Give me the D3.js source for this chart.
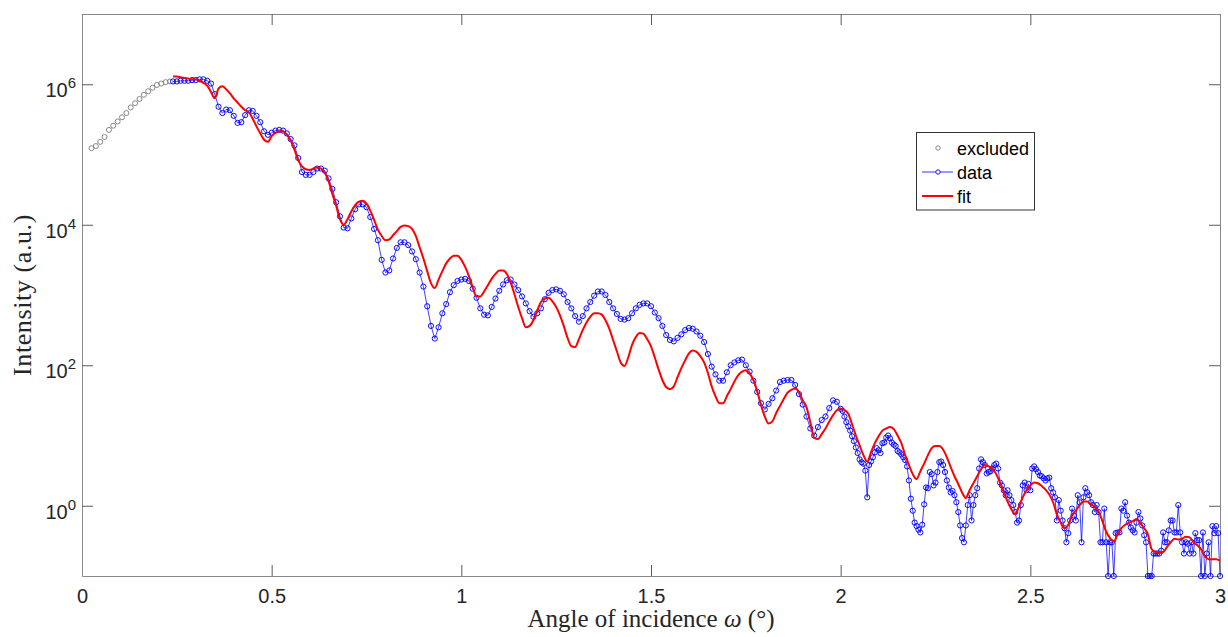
<!DOCTYPE html>
<html>
<head>
<meta charset="utf-8">
<script src="https://cdn.jsdelivr.net/npm/d3@7"></script>
<style>
  html, body { margin: 0; padding: 0; background: #fff; }
  svg { display: block; }
</style>
</head>
<body>
<svg id="chart" width="1228" height="637"></svg>
<script>
// Reflectivity scan: measured intensity vs. angle of incidence with the model fit.
// Intensities are listed as log10 values on a regular angular grid.

// Low-angle points left out of the fit
const excludedStart = 0.025, excludedStep = 0.0115;
const excludedLogI = [5.09, 5.12, 5.18, 5.25, 5.35, 5.41, 5.47, 5.53, 5.59, 5.67,
  5.73, 5.79, 5.85, 5.90, 5.95, 5.99, 6.01, 6.03, 6.04];

// Measured data, 0.24° – 2.00° (0.01° steps)
const dataStart = 0.24, dataStep = 0.01;
const dataLogI = [
  6.04, 6.04, 6.05, 6.05, 6.05, 6.06, 6.06, 6.07, 6.07, 6.05,
  6.01, 5.86, 5.68, 5.59, 5.64, 5.63, 5.55, 5.45, 5.46, 5.56,
  5.63, 5.62, 5.55, 5.46, 5.33, 5.28, 5.31, 5.34, 5.35, 5.34,
  5.30, 5.22, 5.13, 4.95, 4.75, 4.71, 4.71, 4.75, 4.80, 4.80,
  4.77, 4.66, 4.51, 4.32, 4.12, 3.96, 3.95, 4.09, 4.22, 4.29,
  4.29, 4.25, 4.11, 3.94, 3.78, 3.50, 3.32, 3.35, 3.52, 3.67,
  3.75, 3.75, 3.71, 3.62, 3.51, 3.32, 3.12, 2.84, 2.56, 2.38,
  2.54, 2.74, 2.87, 3.04, 3.14, 3.20, 3.22, 3.23, 3.20, 3.09,
  2.96, 2.81, 2.72, 2.71, 2.83, 2.95, 3.06, 3.15, 3.21, 3.22,
  3.15, 3.07, 2.98, 2.88, 2.77, 2.69, 2.74, 2.81, 2.94, 3.03,
  3.07, 3.08, 3.06, 3.01, 2.90, 2.81, 2.70, 2.62, 2.70, 2.81,
  2.90, 2.99, 3.05, 3.05, 3.00, 2.90, 2.81, 2.73, 2.66, 2.65,
  2.67, 2.74, 2.81, 2.86, 2.88, 2.88, 2.84, 2.75, 2.67, 2.56,
  2.43, 2.36, 2.34, 2.39, 2.44, 2.50, 2.53, 2.52, 2.48, 2.42,
  2.33, 2.16, 1.98, 1.87, 1.78, 1.78, 1.90, 2.00, 2.04, 2.07,
  2.08, 2.00, 1.91, 1.78, 1.62, 1.46, 1.37, 1.45, 1.53, 1.64,
  1.76, 1.78, 1.79, 1.79, 1.72, 1.59, 1.44, 1.27, 1.10, 1.00,
  1.12, 1.22, 1.27, 1.39, 1.50, 1.48, 1.38];

// Measured data, 2.005° – 3.000° (0.005° steps)
const dataFineStart = 2.005, dataFineStep = 0.005;
const dataFineLogI = [
  1.35, 1.27, 1.19, 1.13, 1.07, 0.99, 0.92, 0.83, 0.75, 0.66,
  0.62, 0.60, 0.50, 0.12, 0.58, 0.63, 0.69, 0.76, 0.82, 0.79,
  0.75, 0.89, 0.90, 0.97, 1.00, 0.96, 0.90, 0.87, 0.85, 0.78,
  0.76, 0.73, 0.69, 0.65, 0.56, 0.36, 0.10, -0.07, -0.24, -0.29,
  -0.34, -0.38, -0.27, 0.02, 0.26, 0.25, 0.48, 0.45, 0.29, 0.33,
  0.48, 0.62, 0.63, 0.58, 0.48, 0.36, 0.26, 0.19, 0.21, 0.15,
  0.05, -0.09, -0.28, -0.46, -0.52, -0.28, 0.01, 0.15, -0.21, 0.01,
  0.15, 0.25, 0.53, 0.66, 0.62, 0.58, 0.46, 0.48, 0.49, 0.53,
  0.58, 0.60, 0.53, 0.33, 0.29, 0.22, 0.15, 0.22, 0.15, 0.08,
  0.01, -0.09, -0.24, -0.21, 0.01, 0.29, 0.33, 0.22, 0.31, 0.22,
  0.53, 0.56, 0.52, 0.48, 0.43, 0.42, 0.39, 0.36, 0.39, 0.40,
  0.25, 0.19, 0.12, -0.21, 0.08, -0.07, -0.21, -0.32, -0.52, -0.39,
  -0.21, -0.04, -0.14, -0.21, 0.15, 0.05, -0.52, 0.12, 0.25, 0.19,
  0.15, 0.05, 0.01, -0.09, 0.01, -0.09, -0.52, -0.52, -0.04, -0.52,
  -1.00, -0.52, -0.52, -1.00, -0.39, -0.38, -0.38, -0.04, -0.07, 0.05,
  -0.14, -0.24, -0.31, -0.35, -0.38, -0.24, -0.09, -0.18, -0.28, -0.42,
  -0.52, -1.00, -1.00, -1.00, -0.68, -0.68, -0.68, -0.68, -0.64, -0.38,
  -0.52, -0.52, -0.35, -0.21, -0.21, -0.38, -0.38, 0.01, -0.38, -0.52,
  -0.68, -0.52, -0.54, -0.68, -0.52, -0.68, -0.39, -0.49, -0.49, -1.00,
  -0.38, -1.00, -0.68, -0.52, -1.00, -0.29, -0.39, -0.29, -0.39, -1.00];

// Model fit, 0.24° – 3.00° (0.01° steps)
const fitStart = 0.24, fitStep = 0.01;
const fitLogI = [
  6.11, 6.11, 6.10, 6.09, 6.08, 6.07, 6.07, 6.05, 6.02, 5.98,
  5.89, 5.80, 5.94, 5.97, 5.93, 5.87, 5.80, 5.74, 5.68, 5.63,
  5.60, 5.51, 5.40, 5.30, 5.21, 5.18, 5.26, 5.31, 5.33, 5.33,
  5.28, 5.20, 5.07, 4.92, 4.83, 4.79, 4.78, 4.80, 4.82, 4.80,
  4.74, 4.62, 4.44, 4.27, 4.08, 4.00, 4.08, 4.19, 4.28, 4.33,
  4.34, 4.30, 4.20, 4.07, 3.93, 3.84, 3.78, 3.79, 3.85, 3.91,
  3.97, 3.99, 3.98, 3.94, 3.84, 3.68, 3.52, 3.34, 3.17, 3.10,
  3.22, 3.34, 3.45, 3.52, 3.56, 3.56, 3.50, 3.40, 3.27, 3.11,
  2.98, 2.98, 3.05, 3.14, 3.23, 3.30, 3.35, 3.35, 3.30, 3.18,
  3.01, 2.83, 2.67, 2.54, 2.56, 2.64, 2.78, 2.90, 2.95, 2.96,
  2.91, 2.83, 2.71, 2.56, 2.39, 2.27, 2.26, 2.37, 2.50, 2.61,
  2.69, 2.74, 2.74, 2.72, 2.64, 2.52, 2.36, 2.20, 2.04, 1.99,
  2.11, 2.29, 2.40, 2.46, 2.45, 2.37, 2.27, 2.11, 1.94, 1.79,
  1.69, 1.66, 1.70, 1.83, 1.96, 2.07, 2.17, 2.21, 2.19, 2.13,
  2.04, 1.89, 1.70, 1.56, 1.46, 1.46, 1.56, 1.66, 1.77, 1.86,
  1.91, 1.93, 1.88, 1.79, 1.63, 1.43, 1.27, 1.17, 1.20, 1.32,
  1.42, 1.52, 1.61, 1.65, 1.67, 1.62, 1.50, 1.40, 1.19, 0.97,
  0.95, 1.02, 1.10, 1.20, 1.29, 1.36, 1.38, 1.36, 1.31, 1.16,
  1.00, 0.86, 0.72, 0.63, 0.76, 0.89, 0.99, 1.07, 1.10, 1.12,
  1.09, 1.00, 0.89, 0.72, 0.58, 0.45, 0.38, 0.49, 0.60, 0.72,
  0.82, 0.85, 0.85, 0.80, 0.69, 0.55, 0.42, 0.31, 0.19, 0.11,
  0.22, 0.32, 0.42, 0.52, 0.58, 0.56, 0.53, 0.45, 0.33, 0.19,
  0.06, -0.05, -0.12, -0.01, 0.12, 0.22, 0.29, 0.33, 0.32, 0.28,
  0.23, 0.16, 0.05, -0.12, -0.24, -0.32, -0.27, -0.14, -0.07, 0.01,
  0.06, 0.06, 0.02, -0.02, -0.08, -0.22, -0.37, -0.46, -0.51, -0.41,
  -0.32, -0.27, -0.24, -0.22, -0.19, -0.25, -0.32, -0.41, -0.62, -0.66,
  -0.66, -0.66, -0.59, -0.52, -0.47, -0.48, -0.47, -0.44, -0.45, -0.52,
  -0.56, -0.62, -0.72, -0.76, -0.76, -0.76, -0.78];

const xTicks = [0, 0.5, 1, 1.5, 2, 2.5, 3];
const yTickExponents = [0, 2, 4, 6];
const legendLabels = ["excluded", "data", "fit"];

// ---- helpers ----
function toPoints(start, step, logs) {
  return logs.map((v, i) => ({ angle: +(start + i * step).toFixed(4), intensity: Math.pow(10, v) }));
}
const excluded = toPoints(excludedStart, excludedStep, excludedLogI);
const measured = toPoints(dataStart, dataStep, dataLogI)
  .concat(toPoints(dataFineStart, dataFineStep, dataFineLogI));
const fit = toPoints(fitStart, fitStep, fitLogI);

// ---- layout ----
const plot = { left: 82, right: 1220, top: 14, bottom: 576 };
const svg = d3.select("#chart");

const x = d3.scaleLinear().domain([0, 3]).range([plot.left, plot.right]);
const y = d3.scaleLog().domain([0.1, 1e7]).range([plot.bottom, plot.top]);

const boxColor = "#8a8a8a";
const tickColor = "#5a5a5a";
const textColor = "#262626";
const sans = "'Liberation Sans', Arial, Helvetica, sans-serif";
const serif = "'Liberation Serif', 'Times New Roman', serif";

// white plot background
svg.append("rect")
  .attr("x", plot.left).attr("y", plot.top)
  .attr("width", plot.right - plot.left).attr("height", plot.bottom - plot.top)
  .attr("fill", "#fff");

function styleAxis(g) {
  g.select(".domain").attr("stroke", boxColor).attr("stroke-width", 1);
  g.selectAll(".tick line").attr("stroke", tickColor).attr("stroke-width", 1);
  g.selectAll(".tick text").attr("fill", textColor)
    .attr("font-family", sans).attr("font-size", 20);
}

// bottom axis with labels
svg.append("g")
  .attr("transform", `translate(0,${plot.bottom})`)
  .call(d3.axisBottom(x).tickValues(xTicks).tickFormat(d3.format(""))
    .tickSizeInner(-11).tickSizeOuter(0).tickPadding(12.5))
  .call(styleAxis);

// top axis (box edge, ticks only)
svg.append("g")
  .attr("transform", `translate(0,${plot.top})`)
  .call(d3.axisTop(x).tickValues(xTicks).tickFormat("")
    .tickSizeInner(-11).tickSizeOuter(0))
  .call(styleAxis);

const yTicks = yTickExponents.map(e => Math.pow(10, e));

// left axis
svg.append("g")
  .attr("transform", `translate(${plot.left},0)`)
  .call(d3.axisLeft(y).tickValues(yTicks).tickFormat("")
    .tickSizeInner(-11).tickSizeOuter(0))
  .call(styleAxis);

// right axis
svg.append("g")
  .attr("transform", `translate(${plot.right},0)`)
  .call(d3.axisRight(y).tickValues(yTicks).tickFormat("")
    .tickSizeInner(-11).tickSizeOuter(0))
  .call(styleAxis);

// power-of-ten labels on the left axis
yTickExponents.forEach(e => {
  const t = svg.append("text")
    .attr("x", plot.left - 6)
    .attr("y", y(Math.pow(10, e)) + 13)
    .attr("text-anchor", "end")
    .attr("fill", textColor)
    .attr("font-family", sans)
    .attr("font-size", 20);
  t.append("tspan").text("10");
  t.append("tspan").attr("dy", -9).attr("font-size", 15).text(e);
});

// ---- series ----
const line = d3.line().x(d => x(d.angle)).y(d => y(d.intensity));

// excluded points (grey open circles)
svg.append("g")
  .selectAll("circle")
  .data(excluded)
  .join("circle")
  .attr("cx", d => x(d.angle)).attr("cy", d => y(d.intensity))
  .attr("r", 2.5)
  .attr("fill", "none").attr("stroke", "#7a7a7a").attr("stroke-width", 0.9);

// measured data: thin line + open circles
svg.append("path")
  .datum(measured)
  .attr("d", line)
  .attr("fill", "none").attr("stroke", "#0000ff").attr("stroke-width", 0.75);

svg.append("g")
  .selectAll("circle")
  .data(measured)
  .join("circle")
  .attr("cx", d => x(d.angle)).attr("cy", d => y(d.intensity))
  .attr("r", 2.6)
  .attr("fill", "none").attr("stroke", "#0000ff").attr("stroke-width", 0.95);

// fit curve
svg.append("path")
  .datum(fit)
  .attr("d", line.curve(d3.curveMonotoneX))
  .attr("fill", "none").attr("stroke", "#ff0000").attr("stroke-width", 2)
  .attr("stroke-linejoin", "round");

// ---- axis titles ----
const xTitle = svg.append("text")
  .attr("x", (plot.left + plot.right) / 2)
  .attr("y", 627)
  .attr("text-anchor", "middle")
  .attr("fill", textColor)
  .attr("font-family", serif)
  .attr("font-size", 25);
xTitle.append("tspan").text("Angle of incidence ");
xTitle.append("tspan").attr("font-style", "italic").text("ω");
xTitle.append("tspan").text(" (°)");

svg.append("text")
  .attr("transform", `translate(31,${(plot.top + plot.bottom) / 2}) rotate(-90)`)
  .attr("text-anchor", "middle")
  .attr("fill", textColor)
  .attr("font-family", serif)
  .attr("font-size", 26)
  .attr("letter-spacing", 0.6)
  .text("Intensity (a.u.)");

// ---- legend ----
const legend = svg.append("g");
legend.append("rect")
  .attr("x", 916.5).attr("y", 132.5).attr("width", 118).attr("height", 77.5)
  .attr("fill", "#fff").attr("stroke", "#333").attr("stroke-width", 1);

const rowY = [148, 172, 196];
const sampleX0 = 922, sampleX1 = 953, sampleMid = 938;

// excluded: marker only
legend.append("circle")
  .attr("cx", sampleMid).attr("cy", rowY[0]).attr("r", 2.2)
  .attr("fill", "none").attr("stroke", "#7a7a7a").attr("stroke-width", 0.9);
// data: line + marker
legend.append("line")
  .attr("x1", sampleX0).attr("x2", sampleX1).attr("y1", rowY[1]).attr("y2", rowY[1])
  .attr("stroke", "#0000ff").attr("stroke-width", 0.8);
legend.append("circle")
  .attr("cx", sampleMid).attr("cy", rowY[1]).attr("r", 2.2)
  .attr("fill", "#fff").attr("stroke", "#0000ff").attr("stroke-width", 0.9);
// fit: red line
legend.append("line")
  .attr("x1", sampleX0).attr("x2", sampleX1).attr("y1", rowY[2]).attr("y2", rowY[2])
  .attr("stroke", "#ff0000").attr("stroke-width", 2);

legend.selectAll("text.label")
  .data(legendLabels)
  .join("text")
  .attr("class", "label")
  .attr("x", 957)
  .attr("y", (d, i) => rowY[i] + 6.5)
  .attr("fill", "#000")
  .attr("font-family", sans)
  .attr("font-size", 18)
  .text(d => d);
</script>
</body>
</html>
